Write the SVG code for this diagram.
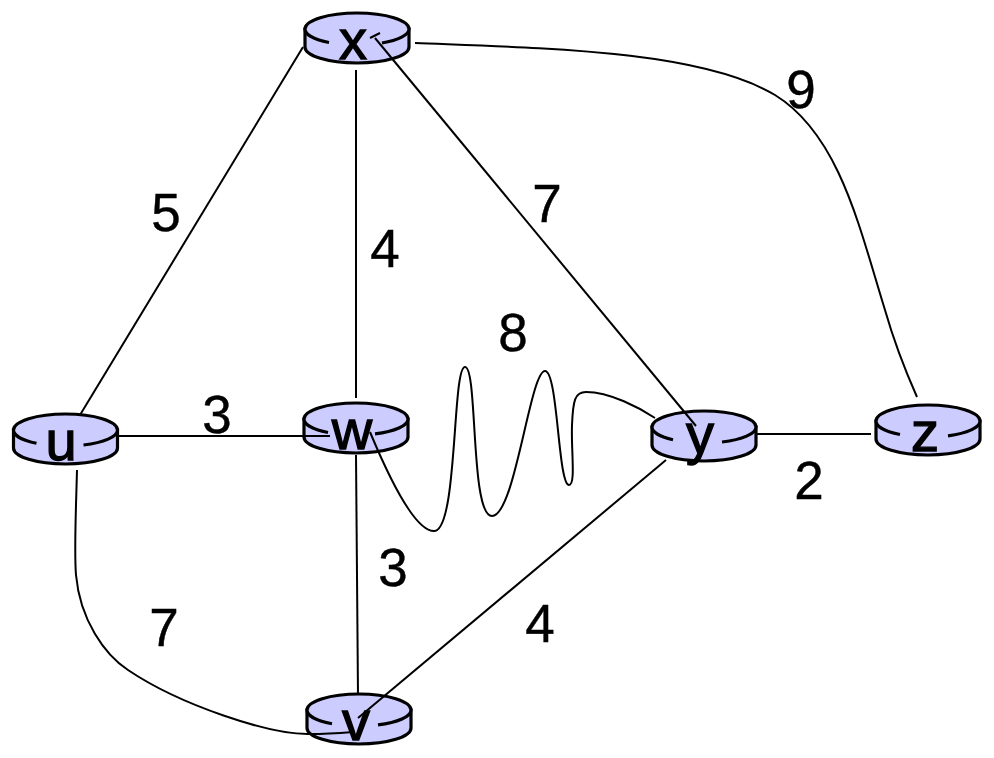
<svg xmlns="http://www.w3.org/2000/svg" width="994" height="758" viewBox="0 0 994 758">
<style>
.body{fill:#ccccff;stroke:#000;stroke-width:3.2}
.top{fill:#ccccff}
.arc{fill:none;stroke:#000;stroke-width:3.2}
.lbl{font-family:"Liberation Sans",Arial,sans-serif;font-size:53px;fill:#000;stroke:#000;stroke-width:.4;text-anchor:middle}
.name{font-family:"Liberation Sans",Arial,sans-serif;font-size:56px;fill:#000;stroke:#000;stroke-width:1.3;text-anchor:middle}
.edge{fill:none;stroke:#000;stroke-width:2}
</style>
<defs>
<path id="cyl" class="body" d="M-52 0V18A52 16 0 0 0 52 18V0Z"/>
</defs>
<rect width="994" height="758" fill="#fff"/>
<g id="node-x" transform="translate(357 29)"><use href="#cyl"/><ellipse class="top" rx="52" ry="16"/><path class="arc" d="M-52 0A52 16 0 0 1 52 0M-52 0A52 16 0 0 0 -28 13.5M25 14A52 16 0 0 0 52 0"/><text class="name" x="-4" y="30">x</text></g>
<g id="node-u" transform="translate(65.5 430)"><use href="#cyl"/><ellipse class="top" rx="52" ry="16"/><path class="arc" d="M-52 0A52 16 0 0 1 52 0M-52 0A52 16 0 0 0 -29 13.3M18 15A52 16 0 0 0 52 0"/><text class="name" x="-4.500" y="30">u</text></g>
<g id="node-w" transform="translate(356 419)"><use href="#cyl"/><ellipse class="top" rx="52" ry="16"/><path class="arc" d="M-52 0A52 16 0 0 1 52 0M-52 0A52 16 0 0 0 -28 13.500M19 14.900A52 16 0 0 0 52 0"/><text class="name" x="-4" y="30">w</text></g>
<g id="node-v" transform="translate(359 710)"><use href="#cyl"/><ellipse class="top" rx="52" ry="16"/><path class="arc" d="M-52 0A52 16 0 0 1 52 0M-52 0A52 16 0 0 0 -27 13.700M19 14.900A52 16 0 0 0 52 0"/><text class="name" x="-3" y="30">v</text></g>
<g id="node-y" transform="translate(704 427)"><use href="#cyl"/><ellipse class="top" rx="52" ry="16"/><path class="arc" d="M-52 0A52 16 0 0 1 52 0M-52 0A52 16 0 0 0 -31 12.800M18 15A52 16 0 0 0 52 0"/><text class="name" x="-4" y="26">y</text></g>
<g id="node-z" transform="translate(928 421)"><use href="#cyl"/><ellipse class="top" rx="52" ry="16"/><path class="arc" d="M-52 0A52 16 0 0 1 52 0M-52 0A52 16 0 0 0 -28 13.500M20 14.800A52 16 0 0 0 52 0"/><text class="name" x="-3" y="30">z</text></g>
<g id="connectors">
<path class="edge" d="M80 415L303 47"/>
<path class="edge" d="M356 70V398"/>
<path class="edge" d="M375 38L696 426"/>
<path class="edge" d="M370 38L380 33"/>
<path class="edge" d="M415 43C540 48 700 50 775 95C840 135 860 230 885 310C895 345 905 370 917 397"/>
<path class="edge" d="M118 436H330"/>
<path class="edge" d="M77 470C76 510 74 550 76 575C80 620 105 655 128 670C180 705 270 735 310 734C325 734 340 733 353 732"/>
<path class="edge" d="M356 455L358 695"/>
<path class="edge" d="M358 718L666 460"/>
<path class="edge" d="M755 434H871"/>
<path class="edge" d="M370 432C390 480 415 531 434 531C458 531 452 367 465 367C478 367 470 516 492 516C515 516 530 371 545 371C558 371 558 485 569 485C576 485 571 450 572 425C573 400 575 392 586 392C610 392 640 408 655 418"/>
</g>
<g id="labels">
<text class="lbl" x="166" y="231">5</text>
<text class="lbl" x="385" y="267">4</text>
<text class="lbl" x="547" y="222">7</text>
<text class="lbl" x="513" y="351">8</text>
<text class="lbl" x="801" y="108">9</text>
<text class="lbl" x="217" y="433">3</text>
<text class="lbl" x="393" y="586">3</text>
<text class="lbl" x="809" y="499">2</text>
<text class="lbl" x="540" y="642">4</text>
<text class="lbl" x="164" y="646">7</text>
</g>
</svg>
